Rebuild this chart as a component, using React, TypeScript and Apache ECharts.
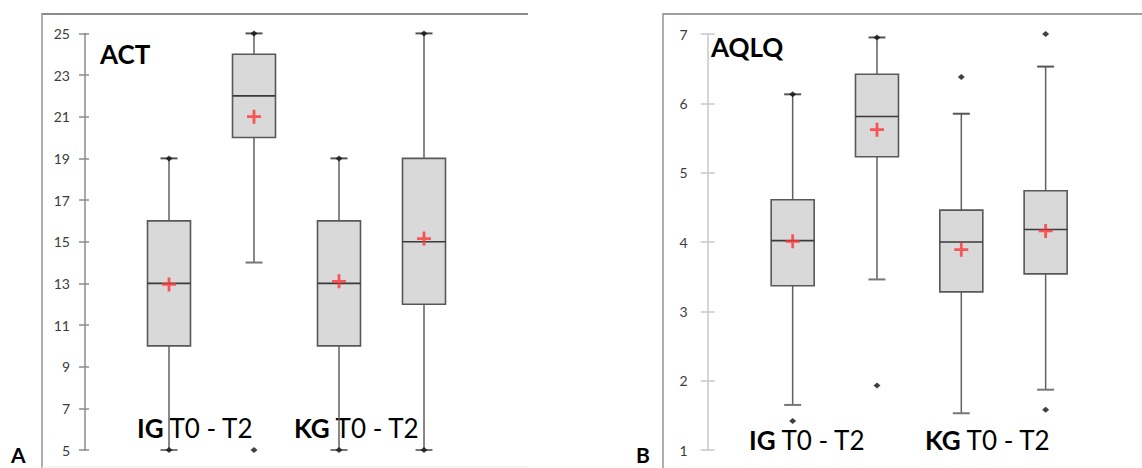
import React, { useEffect, useRef } from "react";
import * as echarts from "echarts";

// ---------- data ----------
const categories = ["IG T0", "IG T2", "KG T0", "KG T2"];

// ACT (panel A)
const actMin = [5, 14, 5, 5];
const actQ1 = [10, 20, 10, 12];
const actMedian = [13, 22, 13, 15];
const actQ3 = [16, 24, 16, 19];
const actMax = [19, 25, 19, 25];
const actMean = [12.95, 21.0, 13.1, 15.15];
const actOutliers: [number, number][] = [[1, 5]];
const actEndDots: [number, number][] = [[0, 5], [0, 19], [1, 25], [2, 5], [2, 19], [3, 5], [3, 25]];
const actTicks = [5, 7, 9, 11, 13, 15, 17, 19, 21, 23, 25];

// AQLQ (panel B)
const aqlqMin = [1.65, 3.46, 1.53, 1.87];
const aqlqQ1 = [3.37, 5.23, 3.28, 3.54];
const aqlqMedian = [4.02, 5.81, 4.0, 4.18];
const aqlqQ3 = [4.61, 6.42, 4.46, 4.74];
const aqlqMax = [6.13, 6.95, 5.85, 6.53];
const aqlqMean = [4.01, 5.62, 3.89, 4.16];
const aqlqOutliers: [number, number][] = [[0, 1.42], [1, 1.93], [2, 6.38], [3, 7.0], [3, 1.58]];
const aqlqEndDots: [number, number][] = [[0, 6.13], [1, 6.95]];
const aqlqTicks = [1, 2, 3, 4, 5, 6, 7];

const groupLabels = ["IG", "KG"];
const groupSuffix = " T0 - T2";

// ---------- helpers ----------
const FONT = "Lato";
const BOX_W = 43;
const CAP_W = 17;

function boxData(mn: number[], q1: number[], md: number[], q3: number[], mx: number[]) {
  return categories.map((_, i) => [i, mn[i], q1[i], md[i], q3[i], mx[i]]);
}

const renderBox = (params: any, api: any) => {
  const i = api.value(0);
  const lo = api.coord([i, api.value(1)]);
  const q1 = api.coord([i, api.value(2)]);
  const md = api.coord([i, api.value(3)]);
  const q3 = api.coord([i, api.value(4)]);
  const hi = api.coord([i, api.value(5)]);
  const cx = lo[0];
  const wStyle = { stroke: "#606060", lineWidth: 1.5 };
  return {
    type: "group",
    children: [
      { type: "line", shape: { x1: cx, y1: q1[1], x2: cx, y2: lo[1] }, style: wStyle },
      { type: "line", shape: { x1: cx, y1: q3[1], x2: cx, y2: hi[1] }, style: wStyle },
      { type: "line", shape: { x1: cx - CAP_W / 2, y1: lo[1], x2: cx + CAP_W / 2, y2: lo[1] }, style: { stroke: "#777", lineWidth: 2 } },
      { type: "line", shape: { x1: cx - CAP_W / 2, y1: hi[1], x2: cx + CAP_W / 2, y2: hi[1] }, style: { stroke: "#555", lineWidth: 2 } },
      {
        type: "rect",
        shape: { x: cx - BOX_W / 2, y: q3[1], width: BOX_W, height: q1[1] - q3[1] },
        style: { fill: "#d9d9d9", stroke: "#585858", lineWidth: 1.6 },
      },
      { type: "line", shape: { x1: cx - BOX_W / 2, y1: md[1], x2: cx + BOX_W / 2, y2: md[1] }, style: { stroke: "#3a3a3a", lineWidth: 1.6 } },
    ],
  };
};

const PLUS = "path://M4,0h2v4h4v2h-4v4h-2v-4h-4v-2h4z";

function panelSeries(idx: number, box: any[], mean: number[], outliers: [number, number][], dots: [number, number][]) {
  return [
    {
      type: "custom",
      xAxisIndex: idx,
      yAxisIndex: idx * 2,
      renderItem: renderBox,
      encode: { x: 0, y: [1, 2, 3, 4, 5] },
      data: box,
      clip: false,
      z: 2,
    },
    {
      type: "scatter",
      xAxisIndex: idx,
      yAxisIndex: idx * 2,
      symbol: PLUS,
      symbolSize: 14,
      itemStyle: { color: "#ff3535" },
      data: mean.map((v, i) => [i, v]),
      clip: false,
      z: 4,
    },
    {
      type: "scatter",
      xAxisIndex: idx,
      yAxisIndex: idx * 2,
      symbol: "diamond",
      symbolSize: [7, 6],
      itemStyle: { color: "#111" },
      data: [...outliers, ...dots],
      clip: false,
      z: 5,
    },
  ];
}

function yAxes(gridIndex: number, min: number, max: number, ticks: number[], offset: number, lineColor: string, outLen: number, inLen: number, margin: number) {
  return [
    {
      type: "value",
      gridIndex,
      min,
      max,
      position: "left",
      offset,
      splitLine: { show: false },
      axisLine: { show: true, lineStyle: { color: lineColor, width: 1.5 } },
      axisTick: { show: true, length: outLen, customValues: ticks, lineStyle: { color: lineColor, width: 1.5 } },
      axisLabel: { show: true, customValues: ticks, margin, color: "#3c3c3c", fontSize: 14, fontFamily: FONT },
    },
    {
      type: "value",
      gridIndex,
      min,
      max,
      position: "left",
      offset,
      splitLine: { show: false },
      axisLine: { show: false },
      axisTick: { show: true, inside: true, length: inLen, customValues: ticks, lineStyle: { color: lineColor, width: 1.5 } },
      axisLabel: { show: false },
    },
  ];
}

function groupText(x: number, y: number, g: string) {
  return {
    type: "text",
    x,
    y,
    style: {
      text: `{b|${g}}{r|${groupSuffix}}`,
      rich: {
        b: { fontFamily: FONT, fontWeight: "bold", fontSize: 26, fill: "#000" },
        r: { fontFamily: FONT, fontWeight: "normal", fontSize: 26, fill: "#000" },
      },
      fontFamily: FONT,
      fontSize: 26,
      verticalAlign: "middle",
    },
  };
}

function titleText(x: number, bottom: number, t: string, size: number) {
  return {
    type: "text",
    x,
    y: bottom,
    style: { text: t, fontFamily: FONT, fontWeight: "bold", fontSize: size, fill: "#000", verticalAlign: "bottom" },
  };
}

export default function App() {
  const ref = useRef<HTMLDivElement>(null);
  useEffect(() => {
    if (!ref.current) return;
    const chart = echarts.init(ref.current, null, { renderer: "svg" });
    const actBox = boxData(actMin, actQ1, actMedian, actQ3, actMax);
    const aqlqBox = boxData(aqlqMin, aqlqQ1, aqlqMedian, aqlqQ3, aqlqMax);
    const frame = { stroke: "#949494", lineWidth: 1.5 };
    chart.setOption({
      animation: false,
      backgroundColor: "#fff",
      grid: [
        { left: 126.5, width: 340, top: 33.4, height: 416.6 },
        { left: 750.5, width: 337.3, top: 34, height: 416 },
      ],
      xAxis: [0, 1].map((g) => ({
        type: "category",
        gridIndex: g,
        data: categories,
        show: false,
        boundaryGap: true,
      })),
      yAxis: [
        ...yAxes(0, 5, 25, actTicks, 41.5, "#8c8c8c", 6, 4, 15),
        ...yAxes(1, 1, 7, aqlqTicks, 42.8, "#c9c9c9", 7, 7, 20),
      ],
      series: [
        ...panelSeries(0, actBox, actMean, actOutliers, actEndDots),
        ...panelSeries(1, aqlqBox, aqlqMean, aqlqOutliers, aqlqEndDots),
      ],
      graphic: [
        // panel frames
        { type: "line", shape: { x1: 42, y1: 14, x2: 528, y2: 14 }, style: { stroke: "#8a8a8a", lineWidth: 2.2 } },
        { type: "line", shape: { x1: 42, y1: 13, x2: 42, y2: 468 }, style: frame },
        { type: "line", shape: { x1: 42, y1: 467, x2: 528, y2: 467 }, style: { stroke: "#ececec", lineWidth: 1 } },
        { type: "line", shape: { x1: 663, y1: 14, x2: 1142, y2: 14 }, style: { stroke: "#a0a0a0", lineWidth: 2 } },
        { type: "line", shape: { x1: 663, y1: 13, x2: 663, y2: 468 }, style: frame },
        // titles
        titleText(100, 67, "ACT", 26),
        titleText(711, 60, "AQLQ", 26),
        // group labels
        groupText(137, 428, groupLabels[0]),
        groupText(294, 428, groupLabels[1]),
        groupText(749, 440, groupLabels[0]),
        groupText(925, 440, groupLabels[1]),
        // panel letters
        titleText(11, 465, "A", 21),
        titleText(636, 465, "B", 21),
      ],
    });
    return () => chart.dispose();
  }, []);
  return (
    <div
      ref={ref}
      style={{ position: "fixed", left: 0, top: 0, width: 1142, height: 468, background: "#fff" }}
    />
  );
}
